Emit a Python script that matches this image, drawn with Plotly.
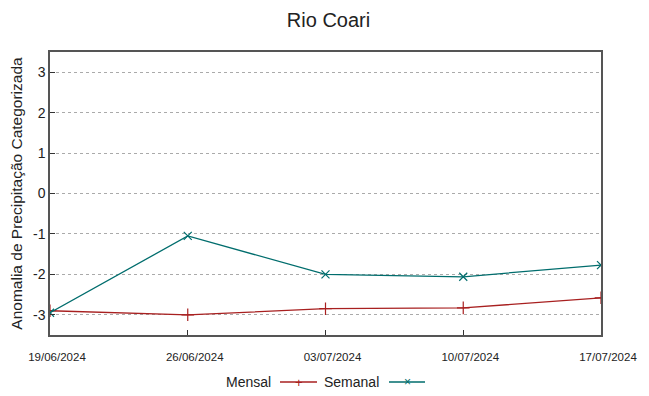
import plotly.graph_objects as go

dates = ["2024-06-19", "2024-06-26", "2024-07-03", "2024-07-10", "2024-07-17"]
mensal = [-2.9, -3.0, -2.85, -2.83, -2.58]
semanal = [-2.95, -1.05, -2.0, -2.06, -1.77]
yticks = [-3, -2, -1, 0, 1, 2, 3]
ytext = ["-3", "-2", "-1", "0", "1", "2", "3"]
series_names = ["Mensal", "Semanal"]
colors = ["#a82020", "#006d6d"]
symbols = ["cross-thin", "x-thin"]

# page body has an 8px default margin; size the figure so it fits the 649x396 window
OFF = 8
W, H = 649 - OFF, 396 - OFF
L, R, T, B = 50 - OFF, 601 - OFF, 52 - OFF, 335 - OFF

fig = go.Figure()
for name, vals, c, s, sz in zip(series_names, [mensal, semanal], colors, symbols, [9, 8]):
    fig.add_trace(go.Scatter(
        x=dates, y=vals, name=name, mode="lines+markers",
        line=dict(color=c, width=1.3),
        marker=dict(symbol=s, size=sz, line=dict(color=c, width=1.2)),
        showlegend=False,
    ))

fig.update_layout(
    width=W, height=H,
    margin=dict(l=L, r=W - R, t=T, b=H - B, autoexpand=False),
    paper_bgcolor="white", plot_bgcolor="white",
    font=dict(family="Liberation Sans, Arial, sans-serif", color="#222"),
    title=dict(text="Rio Coari", x=0.5, xanchor="center", y=1 - (19.5 - OFF) / H, yanchor="middle",
               yref="container", font=dict(size=20, color="#222")),
    showlegend=False,
    xaxis=dict(
        type="date", range=["2024-06-19", "2024-07-17"], automargin=False,
        tickvals=dates, tickformat="%d/%m/%Y", ticklabelstandoff=10, ticklabelshift=7,
        tickfont=dict(size=11.5, color="#222"), showgrid=False, zeroline=False,
        showline=True, linecolor="#555", linewidth=1.5, mirror=True,
        ticks="inside", ticklen=5, tickcolor="#333",
    ),
    yaxis=dict(
        range=[-3.5, 3.5], tickvals=yticks, ticktext=ytext, automargin=False,
        tickfont=dict(size=14, color="#222"),
        title=dict(text="Anomalia de Precipitação Categorizada", font=dict(size=15.5, color="#222"), standoff=8),
        showgrid=True, gridcolor="#aaa", griddash="dot", gridwidth=1,
        zeroline=False, showline=True, linecolor="#555", linewidth=1.5, mirror=True,
        ticks="inside", ticklen=5, tickcolor="#333",
    ),
)

# gnuplot-style legend below the plot: text, then sample line with marker
def dx(x):
    return (x - OFF - L) / (R - L)

def dy(y):
    return (B - (y - OFF)) / (B - T)

legend_items = [
    (series_names[0], 273, 280, 317, "+", colors[0]),
    (series_names[1], 381, 389, 425, "×", colors[1]),
]
ly = 382
shapes, ann = [], []
for name, tx, x0, x1, mk, c in legend_items:
    ann.append(dict(text=name, xref="paper", yref="paper", x=dx(tx), y=dy(ly),
                    xanchor="right", yanchor="middle", showarrow=False,
                    font=dict(size=14, color="#222")))
    shapes.append(dict(type="line", xref="paper", yref="paper",
                       x0=dx(x0), x1=dx(x1), y0=dy(ly), y1=dy(ly),
                       line=dict(color=c, width=1.3)))
    ann.append(dict(text=mk, xref="paper", yref="paper", x=dx((x0 + x1) / 2), y=dy(ly),
                    xanchor="center", yanchor="middle", showarrow=False,
                    font=dict(size=13 if mk == "+" else 12, color=c)))
fig.update_layout(shapes=shapes, annotations=ann)

fig.write_html("out.html")
